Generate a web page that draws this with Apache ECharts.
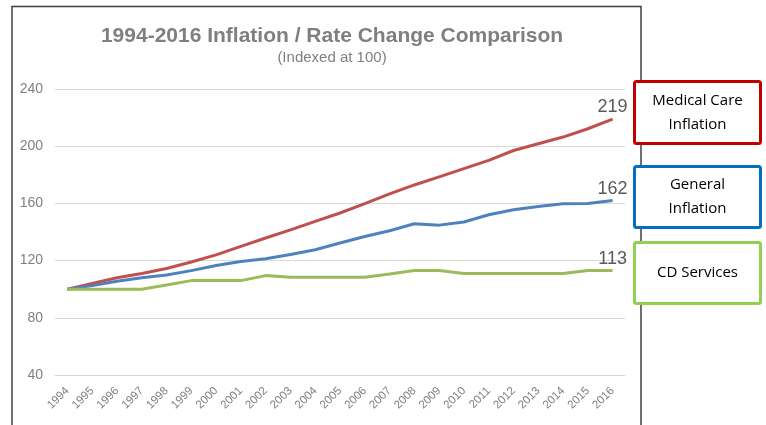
<!DOCTYPE html>
<html>
<head>
<meta charset="utf-8">
<script src="https://cdn.jsdelivr.net/npm/echarts@6/dist/echarts.min.js"></script>
<style>
html,body{margin:0;padding:0;background:#fff;}
#chart{width:766px;height:425px;}
</style>
</head>
<body>
<div id="chart"></div>
<script>
const years = ['1994','1995','1996','1997','1998','1999','2000','2001','2002','2003','2004','2005','2006','2007','2008','2009','2010','2011','2012','2013','2014','2015','2016'];
const medicalCare = [100,104,108,111,114.5,119,124,130,135.8,141.5,147.4,153.3,159.8,166.6,172.9,178.5,184.3,190.1,197,201.7,206.4,212.2,219];
const generalInflation = [100,102.5,105.5,108,110,113,116.6,119.4,121.3,124.3,127.6,132.3,136.9,140.9,145.8,144.8,147,152.1,155.6,157.9,159.8,160,162];
const cdServices = [100,100,100,100,103,106,106,106,109.5,108.3,108.3,108.3,108.3,110.6,113,113,111,111,111,111,111,113,113];
const yTicks = [40,80,120,160,200,240];
const legendNames = ['Medical Care\nInflation','General\nInflation','CD Services'];

const chart = echarts.init(document.getElementById('chart'));
function series(name, data, color) {
  return {
    name, type: 'line', data, symbol: 'none', smooth: false,
    lineStyle: {color, width: 3}, itemStyle: {color},
    endLabel: {
      show: true, distance: 0, align: 'center', verticalAlign: 'bottom', offset: [0, -3],
      fontSize: 18, color: '#595959', fontFamily: 'Liberation Sans',
      formatter: p => String(Math.round(p.value))
    },
    z: 3
  };
}
function box(y, h, color, text) {
  return {
    type: 'group', left: 633, top: y, children: [
      {type: 'rect', shape: {x: 0, y: 0, width: 126, height: h, r: 2},
       style: {fill: '#fff', stroke: color, lineWidth: 3}},
      {type: 'text', x: 63, y: h / 2,
       style: {text, align: 'center', verticalAlign: 'middle', fill: '#000',
               font: '15px "Open Sans", "Liberation Sans", sans-serif', lineHeight: 24}}
    ]
  };
}
chart.setOption({
  animation: false,
  backgroundColor: '#fff',
  title: {
    text: '1994-2016 Inflation / Rate Change Comparison',
    subtext: '(Indexed at 100)',
    left: 327, top: 21, textAlign: 'center', itemGap: 3,
    textStyle: {fontSize: 21, fontWeight: 'bold', color: '#7f7f7f', fontFamily: '"Liberation Sans", Arial, sans-serif'},
    subtextStyle: {fontSize: 15, color: '#7f7f7f', fontFamily: '"Liberation Sans", Arial, sans-serif'}
  },
  grid: {left: 55, right: 141, top: 89, bottom: 50, containLabel: false},
  xAxis: {
    type: 'category', data: years, boundaryGap: true,
    axisLine: {show: true, lineStyle: {color: '#d9d9d9'}},
    axisTick: {show: false},
    axisLabel: {rotate: 45, interval: 0, fontSize: 11.5, color: '#7f7f7f', fontFamily: 'Liberation Sans', margin: 14}
  },
  yAxis: {
    type: 'value', min: yTicks[0], max: yTicks[yTicks.length - 1], interval: 40,
    axisLine: {show: false}, axisTick: {show: false},
    axisLabel: {fontSize: 14, color: '#7f7f7f', fontFamily: 'Liberation Sans', margin: 12},
    splitLine: {lineStyle: {color: '#d9d9d9', width: 1}}
  },
  series: [
    series('Medical Care Inflation', medicalCare, '#C0504D'),
    series('General Inflation', generalInflation, '#4F81BD'),
    series('CD Services', cdServices, '#9BBB59')
  ],
  graphic: [
    {type: 'polyline', shape: {points: [[12, 430], [12, 6.5], [641, 6.5], [641, 430]]},
     style: {stroke: '#404040', lineWidth: 1.5, fill: null}, z: 0, silent: true},
    box(80, 62, '#C00000', legendNames[0]),
    box(165, 61, '#0070C0', legendNames[1]),
    box(241, 61, '#92D050', legendNames[2])
  ]
});
</script>
</body>
</html>
